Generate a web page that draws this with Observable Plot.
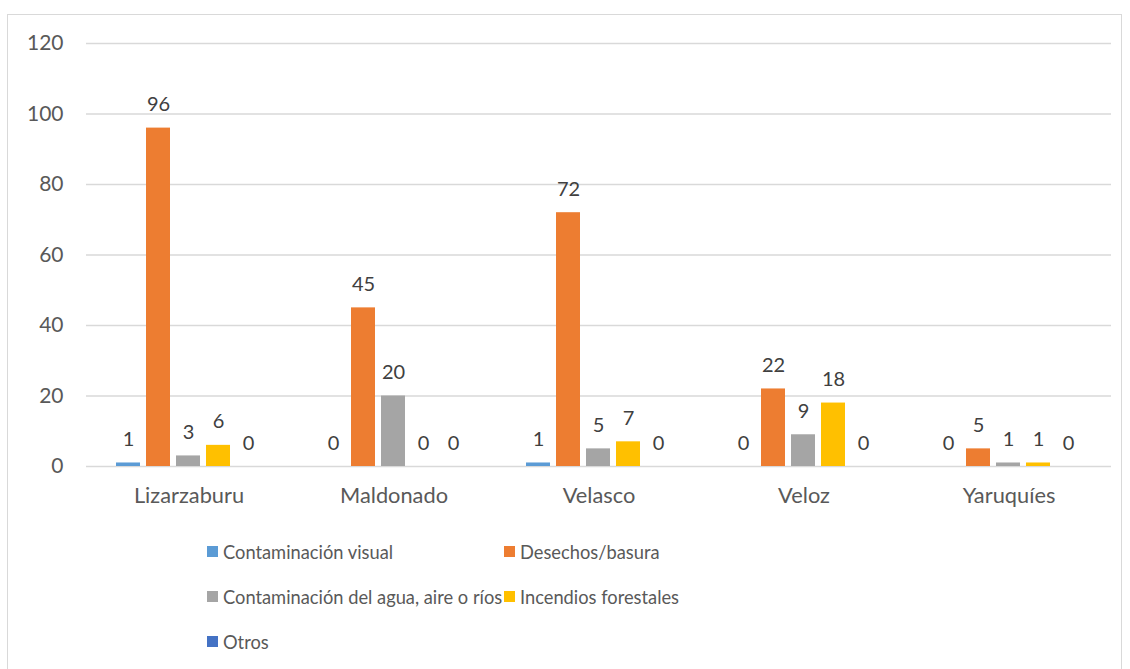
<!DOCTYPE html>
<html><head><meta charset="utf-8">
<script src="https://cdn.jsdelivr.net/npm/d3@7"></script>
<script src="https://cdn.jsdelivr.net/npm/@observablehq/plot@0.6"></script>
<style>
body{margin:0;background:#fff;font-family:Lato,sans-serif;width:1130px;height:669px;overflow:hidden;position:relative;}
#frame{position:absolute;left:7px;top:14px;width:1115px;height:720px;border:1px solid #d9d9d9;box-sizing:border-box;}
#chart{position:absolute;left:0;top:0;}
#legend{position:absolute;left:207px;top:540px;display:grid;grid-template-columns:297px auto;row-gap:22px;font-size:18.3px;color:#595959;}
.item{display:flex;align-items:center;height:23px;white-space:nowrap;}
.sw{width:11px;height:11px;margin-right:5px;flex:none;}
</style></head>
<body>
<div id="frame"></div>
<div id="chart"></div>
<div id="legend"></div>
<script>
const districts = ["Lizarzaburu","Maldonado","Velasco","Veloz","Yaruquíes"];
const series = ["Contaminación visual","Desechos/basura","Contaminación del agua, aire o ríos","Incendios forestales","Otros"];
const visual = [1,0,1,0,0];
const desechos = [96,45,72,22,5];
const agua = [3,20,5,9,1];
const incendios = [6,0,7,18,1];
const otros = [0,0,0,0,0];
const colors = ["#5B9BD5","#ED7D31","#A5A5A5","#FFC000","#4472C4"];
const yTicks = [0,20,40,60,80,100,120];

const values = [visual, desechos, agua, incendios, otros];
const data = [];
districts.forEach((d,i)=>series.forEach((s,j)=>data.push({district:d, series:s, value:values[j][i]})));

const chart = Plot.plot({
  width:1130, height:520,
  marginLeft:85, marginRight:18, marginTop:43, marginBottom:54,
  style:{fontFamily:"Lato, sans-serif", fontSize:"21px", color:"#595959", background:"transparent"},
  fx:{domain:districts, padding:0, label:null},
  x:{domain:series, axis:null, paddingInner:0.194, paddingOuter:0.91},
  y:{domain:[0,120], ticks:yTicks, tickSize:0, tickPadding:23, label:null},
  color:{domain:series, range:colors},
  marks:[
    Plot.gridY(yTicks, {stroke:"#d9d9d9", strokeOpacity:1, strokeWidth:1.3}),
    Plot.axisFx({anchor:"bottom", tickSize:0, tickPadding:21, fontSize:21.8, label:null}),
    Plot.barY(data, {fx:"district", x:"series", y:"value", fill:"series"}),
    Plot.text(data, {fx:"district", x:"series", y:"value", text:d=>String(d.value), dy:-17, lineAnchor:"bottom", fill:"#404040", fontSize:20})
  ]
});
document.getElementById("chart").appendChild(chart);

const legend = document.getElementById("legend");
series.forEach((s,j)=>{
  const it = document.createElement("div");
  it.className="item";
  const sw = document.createElement("span");
  sw.className="sw"; sw.style.background=colors[j];
  const t = document.createElement("span");
  t.textContent = s;
  it.appendChild(sw); it.appendChild(t);
  legend.appendChild(it);
});
</script>
</body></html>
